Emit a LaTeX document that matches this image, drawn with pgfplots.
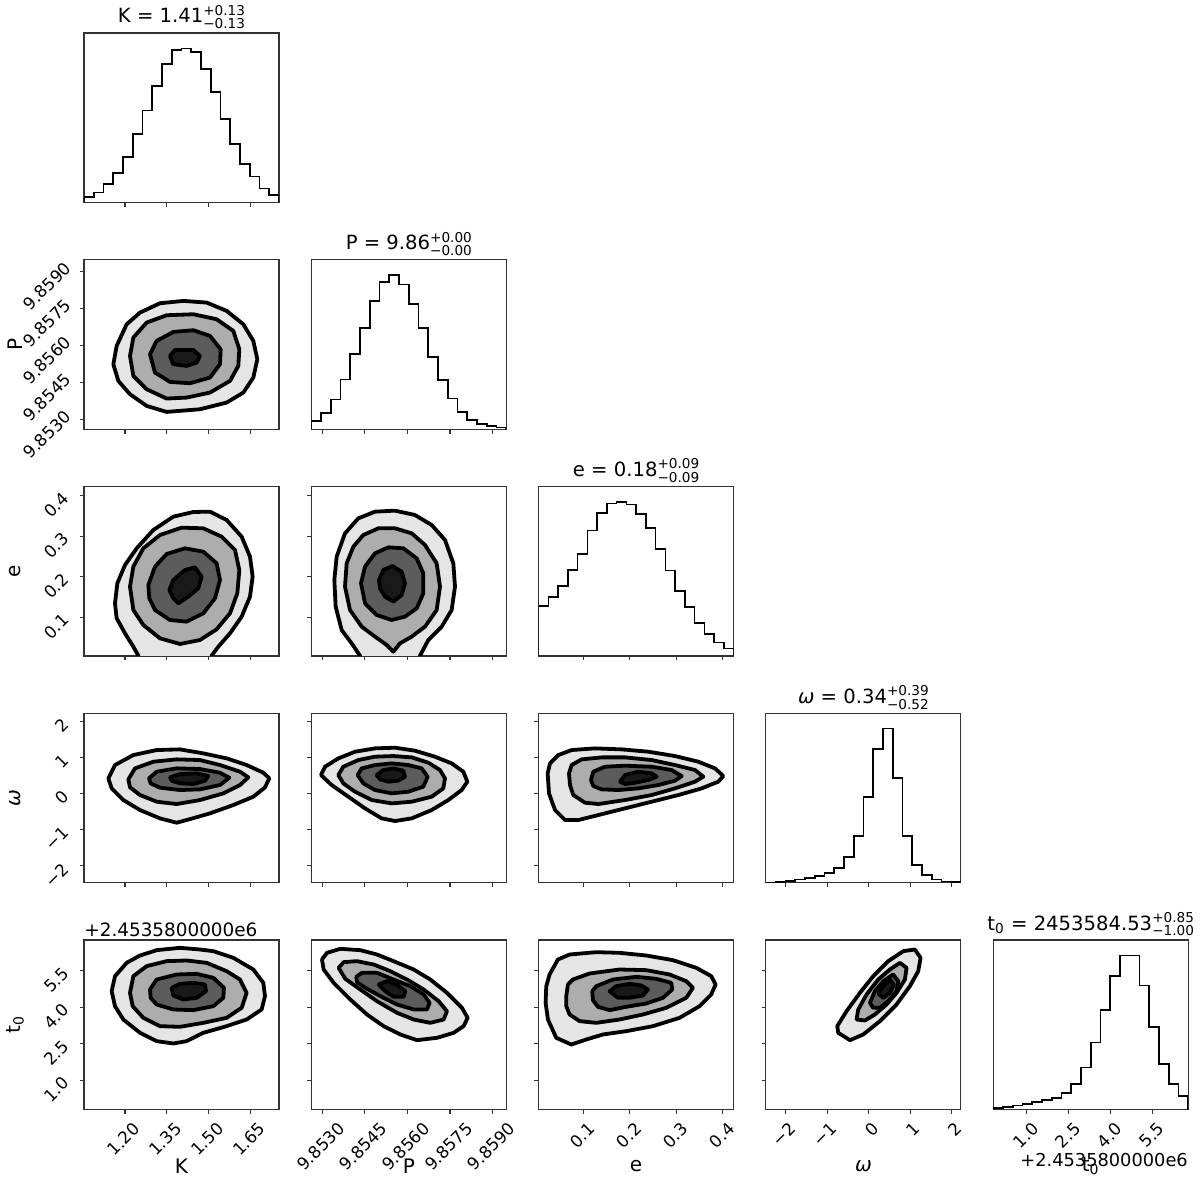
\documentclass[border=0pt]{standalone}
\usepackage{fontspec}
\setmainfont{DejaVu Sans}
\usepackage{pgfplots}
\pgfplotsset{compat=1.18}
\newcommand{\tl}{\fontsize{8.4}{9}\selectfont}
\newcommand{\lb}{\fontsize{10}{11}\selectfont}
\newcommand{\ttl}{\fontsize{9.8}{11}\selectfont}
\newcommand{\ud}[2]{{\fontsize{6.8}{7}\selectfont\rlap{\raisebox{3.8pt}{#1}}\raisebox{-2.9pt}{#2}}}
\def\Kmin{1.053}\def\Kmax{1.752}
\def\Pmin{26.2}\def\Pmax{94.8}
\def\emin{0.004}\def\emax{0.423}
\def\wmin{-2.48}\def\wmax{2.22}
\def\tmin{-0.2}\def\tmax{6.77}
\pgfplotsset{
 corner/.style={scale only axis, width=97.5pt, height=84.75pt, anchor=north west,
   axis line style={black!80, line width=0.55pt}, tick style={black!80, line width=0.55pt},
   tick align=outside, major tick length=2.2pt, xtick pos=bottom, ytick pos=left,
   xticklabels={}, yticklabels={}, clip mode=individual,
   xlabel style={font=\lb, at={(axis description cs:0.5,-0.335)}, anchor=center},
   ylabel style={font=\lb, at={(axis description cs:-0.354,0.5)}, anchor=center},
   title style={font=\ttl, at={(axis description cs:0.5,1)}, anchor=south, inner sep=0pt, yshift=-4.2pt}},
 xtl/.style={xticklabel style={font=\tl, xshift=#1, yshift=-2pt, rotate=45, anchor=north east, inner sep=1pt}},
 ytl/.style 2 args={yticklabel style={font=\tl, xshift=#1, yshift=#2, rotate=45, anchor=east, inner sep=1pt}},
 Kx/.style={xmin=\Kmin, xmax=\Kmax, xtick={1.2,1.35,1.5,1.65}},
 KxL/.style={xticklabels={1.20,1.35,1.50,1.65}, xlabel={K}, xtl=3.6pt},
 Px/.style={xmin=\Pmin, xmax=\Pmax, xtick={30,45,60,75,90}},
 PxL/.style={xticklabels={9.8530,9.8545,9.8560,9.8575,9.8590}, xlabel={P}, xtl=7.4pt},
 ex/.style={xmin=\emin, xmax=\emax, xtick={0.1,0.2,0.3,0.4}},
 exL/.style={xticklabels={0.1,0.2,0.3,0.4}, xlabel={e}, xtl=2pt},
 wx/.style={xmin=\wmin, xmax=\wmax, xtick={-2,-1,0,1,2}},
 wxL/.style={xticklabels={−2,−1,0,1,2}, xlabel={\textit{ω}}, xtl=1.2pt},
 tx/.style={xmin=\tmin, xmax=\tmax, xtick={1,2.5,4,5.5}},
 txL/.style={xticklabels={1.0,2.5,4.0,5.5}, xlabel={t\textsubscript{0}}, xtl=2pt},
 Py/.style={ymin=\Pmin, ymax=\Pmax, ytick={30,45,60,75,90}},
 PyL/.style={yticklabels={9.8530,9.8545,9.8560,9.8575,9.8590}, ylabel={P}, ytl={-5pt}{4pt}},
 ey/.style={ymin=\emin, ymax=\emax, ytick={0.1,0.2,0.3,0.4}},
 eyL/.style={yticklabels={0.1,0.2,0.3,0.4}, ylabel={e}, ytl={-6pt}{1pt}},
 wy/.style={ymin=\wmin, ymax=\wmax, ytick={-2,-1,0,1,2}},
 wyL/.style={yticklabels={−2,−1,0,1,2}, ylabel={\textit{ω}}, ytl={-6pt}{0.5pt}},
 ty/.style={ymin=\tmin, ymax=\tmax, ytick={1,2.5,4,5.5}},
 tyL/.style={yticklabels={1.0,2.5,4.0,5.5}, ylabel={t\textsubscript{0}}, ytl={-6pt}{1pt}},
 hist/.style={const plot, draw=black, line width=0.85pt, mark=none},
 table/hx/.style 2 args={x expr={#1+\thisrow{i}*((#2)-(#1))/20}, y=h, row sep=\\},
 table/pix/.style n args={9}{x expr={#6+(\thisrow{a}/#1+#2-#3)/195*((#7)-(#6))},
   y expr={#8+(#5-\thisrow{b}/#1-#4)/169.5*((#9)-(#8))}, row sep=\\},
 cbase/.style={draw=black, line width=1.9pt, line join=round, line cap=round, mark=none},
 c4/.style={cbase, fill=black!10},
 c3/.style={cbase, fill=black!32},
 c2/.style={cbase, fill=black!64},
 c1/.style={cbase, fill=black!90},
}
\begin{document}
\begin{tikzpicture}
\useasboundingbox (0pt,0pt) rectangle (600pt,591.5pt);
% ---------- Row 1 ----------
\begin{axis}[corner, at={(42pt,575pt)}, Kx, ymin=0, ymax=505, ytick=\empty, title={K = 1.41\ud{+0.13}{−0.13}}]
\addplot[hist] table[hx={\Kmin}{\Kmax}]{i h\\ 0 0\\ 0 17\\ 1 30\\ 2 55\\ 3 87\\ 4 135\\ 5 205\\ 6 274\\ 7 347\\ 8 412\\ 9 455\\ 10 459\\ 11 449\\ 12 397\\ 13 329\\ 14 249\\ 15 175\\ 16 115\\ 17 77\\ 18 42\\ 19 22\\ 20 22\\ 20 0\\};
\end{axis}
% ---------- Row 2 ----------
\begin{axis}[corner, at={(42pt,461.625pt)}, Kx, Py, PyL]
\addplot[c4] table[pix={3}{0}{84}{250}{430}{\Kmin}{\Kmax}{\Pmin}{\Pmax}]{a b\\ 340 345\\ 350 290\\ 380 225\\ 420 190\\ 480 162\\ 550 155\\ 620 160\\ 680 185\\ 730 225\\ 760 275\\ 772 330\\ 760 385\\ 730 430\\ 680 460\\ 600 480\\ 500 488\\ 440 470\\ 390 435\\ 355 395\\ 340 345\\};
\addplot[c3] table[pix={3}{0}{84}{250}{430}{\Kmin}{\Kmax}{\Pmin}{\Pmax}]{a b\\ 390 320\\ 400 265\\ 440 220\\ 500 198\\ 580 195\\ 650 210\\ 700 245\\ 718 300\\ 715 350\\ 690 395\\ 630 430\\ 560 445\\ 500 448\\ 440 420\\ 400 380\\ 390 320\\};
\addplot[c2] table[pix={3}{0}{84}{250}{430}{\Kmin}{\Kmax}{\Pmin}{\Pmax}]{a b\\ 450 315\\ 470 275\\ 520 248\\ 580 243\\ 630 260\\ 662 300\\ 660 345\\ 630 385\\ 570 402\\ 510 398\\ 465 370\\ 450 315\\};
\addplot[c1] table[pix={3}{0}{84}{250}{430}{\Kmin}{\Kmax}{\Pmin}{\Pmax}]{a b\\ 510 320\\ 525 302\\ 580 302\\ 600 320\\ 590 340\\ 560 350\\ 520 345\\ 510 320\\};
\end{axis}
\begin{axis}[corner, at={(155.65pt,461.625pt)}, Px, ymin=0, ymax=511.5, ytick=\empty, title={P = 9.86\ud{+0.00}{−0.00}}]
\addplot[hist] table[hx={\Pmin}{\Pmax}]{i h\\ 0 0\\ 0 25\\ 1 50\\ 2 90\\ 3 150\\ 4 227\\ 5 305\\ 6 387\\ 7 445\\ 8 465\\ 9 437\\ 10 377\\ 11 305\\ 12 217\\ 13 148\\ 14 93\\ 15 53\\ 16 28\\ 17 15\\ 18 10\\ 19 5\\ 20 5\\ 20 0\\};
\end{axis}
% ---------- Row 3 ----------
\begin{axis}[corner, at={(42pt,348.25pt)}, Kx, ey, eyL]
\addplot[c4] table[pix={3}{0}{84}{470}{656}{\Kmin}{\Kmax}{\emin}{\emax}]{a b\\ 418 575\\ 415 557\\ 400 530\\ 375 490\\ 350 445\\ 345 400\\ 352 340\\ 375 285\\ 410 235\\ 460 180\\ 520 140\\ 580 126\\ 630 125\\ 680 150\\ 725 200\\ 750 260\\ 758 320\\ 750 380\\ 725 440\\ 690 490\\ 655 530\\ 635 557\\ 632 575\\};
\addplot[c3] table[pix={3}{0}{84}{470}{656}{\Kmin}{\Kmax}{\emin}{\emax}]{a b\\ 390 350\\ 400 290\\ 430 235\\ 480 195\\ 545 173\\ 610 175\\ 665 200\\ 705 240\\ 718 300\\ 712 370\\ 690 430\\ 650 478\\ 600 510\\ 540 522\\ 480 505\\ 430 465\\ 400 420\\ 390 350\\};
\addplot[c2] table[pix={3}{0}{84}{470}{656}{\Kmin}{\Kmax}{\emin}{\emax}]{a b\\ 445 345\\ 465 290\\ 500 252\\ 555 235\\ 610 245\\ 650 280\\ 660 330\\ 645 385\\ 610 430\\ 560 455\\ 510 450\\ 465 420\\ 448 385\\ 445 345\\};
\addplot[c1] table[pix={3}{0}{84}{470}{656}{\Kmin}{\Kmax}{\emin}{\emax}]{a b\\ 508 360\\ 520 330\\ 555 300\\ 585 292\\ 605 320\\ 595 355\\ 565 380\\ 535 400\\ 520 385\\ 508 360\\};
\end{axis}
\begin{axis}[corner, at={(155.65pt,348.25pt)}, Px, ey]
\addplot[c4] table[pix={3}{305}{311.3}{480}{656}{\Pmin}{\Pmax}{\emin}{\emax}]{a b\\ 167 540\\ 165 527\\ 140 490\\ 110 450\\ 92 380\\ 88 300\\ 95 230\\ 120 160\\ 160 115\\ 210 95\\ 270 92\\ 330 105\\ 380 135\\ 420 180\\ 445 250\\ 450 320\\ 440 390\\ 410 440\\ 370 480\\ 345 527\\ 343 540\\};
\addplot[c3] table[pix={3}{305}{311.3}{480}{656}{\Pmin}{\Pmax}{\emin}{\emax}]{a b\\ 120 320\\ 125 250\\ 145 200\\ 175 165\\ 220 145\\ 270 145\\ 320 160\\ 360 195\\ 395 250\\ 405 320\\ 395 390\\ 360 440\\ 320 470\\ 285 490\\ 265 515\\ 245 495\\ 210 470\\ 170 440\\ 135 390\\ 120 320\\};
\addplot[c2] table[pix={3}{305}{311.3}{480}{656}{\Pmin}{\Pmax}{\emin}{\emax}]{a b\\ 168 310\\ 180 260\\ 210 220\\ 250 202\\ 295 205\\ 335 235\\ 355 280\\ 355 340\\ 335 385\\ 300 410\\ 260 420\\ 215 405\\ 180 370\\ 168 310\\};
\addplot[c1] table[pix={3}{305}{311.3}{480}{656}{\Pmin}{\Pmax}{\emin}{\emax}]{a b\\ 222 300\\ 235 270\\ 262 258\\ 290 275\\ 300 310\\ 290 345\\ 265 365\\ 240 350\\ 225 325\\ 222 300\\};
\end{axis}
\begin{axis}[corner, at={(269.3pt,348.25pt)}, ex, ymin=0, ymax=506, ytick=\empty, title={e = 0.18\ud{+0.09}{−0.09}}]
\addplot[hist] table[hx={\emin}{\emax}]{i h\\ 0 0\\ 0 150\\ 1 177\\ 2 209\\ 3 257\\ 4 305\\ 5 375\\ 6 427\\ 7 455\\ 8 460\\ 9 452\\ 10 424\\ 11 382\\ 12 319\\ 13 255\\ 14 195\\ 15 147\\ 16 99\\ 17 65\\ 18 40\\ 19 22\\ 20 22\\ 20 0\\};
\end{axis}
% ---------- Row 4 ----------
\begin{axis}[corner, at={(42pt,234.875pt)}, Kx, wy, wyL]
\addplot[c4] table[pix={3}{0}{84}{700}{882.7}{\Kmin}{\Kmax}{\wmin}{\wmax}]{a b\\ 325 235\\ 345 195\\ 400 165\\ 470 150\\ 540 148\\ 610 160\\ 680 175\\ 740 195\\ 790 218\\ 808 235\\ 795 262\\ 760 290\\ 700 315\\ 630 340\\ 560 360\\ 530 368\\ 480 355\\ 420 330\\ 370 300\\ 335 265\\ 325 235\\};
\addplot[c3] table[pix={3}{0}{84}{700}{882.7}{\Kmin}{\Kmax}{\wmin}{\wmax}]{a b\\ 385 238\\ 405 205\\ 460 185\\ 530 178\\ 600 180\\ 660 195\\ 720 215\\ 745 232\\ 720 255\\ 670 280\\ 600 300\\ 530 312\\ 470 305\\ 420 285\\ 390 262\\ 385 238\\};
\addplot[c2] table[pix={3}{0}{84}{700}{882.7}{\Kmin}{\Kmax}{\wmin}{\wmax}]{a b\\ 447 235\\ 470 215\\ 530 205\\ 600 207\\ 660 218\\ 688 233\\ 660 255\\ 600 268\\ 540 270\\ 480 263\\ 452 250\\ 447 235\\};
\addplot[c1] table[pix={3}{0}{84}{700}{882.7}{\Kmin}{\Kmax}{\wmin}{\wmax}]{a b\\ 510 232\\ 540 222\\ 590 220\\ 625 228\\ 615 242\\ 580 252\\ 540 250\\ 515 242\\ 510 232\\};
\end{axis}
\begin{axis}[corner, at={(155.65pt,234.875pt)}, Px, wy]
\addplot[c4] table[pix={3}{305}{311.3}{480}{882.7}{\Pmin}{\Pmax}{\wmin}{\wmax}]{a b\\ 48 885\\ 60 860\\ 100 835\\ 150 815\\ 210 805\\ 270 803\\ 330 812\\ 390 830\\ 440 850\\ 475 875\\ 487 905\\ 470 930\\ 430 960\\ 380 990\\ 320 1015\\ 270 1023\\ 230 1015\\ 180 985\\ 130 950\\ 80 915\\ 48 885\\};
\addplot[c3] table[pix={3}{305}{311.3}{480}{882.7}{\Pmin}{\Pmax}{\wmin}{\wmax}]{a b\\ 100 885\\ 115 860\\ 160 840\\ 210 830\\ 265 828\\ 320 832\\ 370 848\\ 405 870\\ 420 895\\ 415 925\\ 380 950\\ 320 965\\ 260 970\\ 200 960\\ 150 935\\ 115 910\\ 100 885\\};
\addplot[c2] table[pix={3}{305}{311.3}{480}{882.7}{\Pmin}{\Pmax}{\wmin}{\wmax}]{a b\\ 158 885\\ 170 865\\ 210 855\\ 260 850\\ 310 855\\ 350 865\\ 368 890\\ 355 920\\ 310 935\\ 260 940\\ 210 930\\ 175 910\\ 158 885\\};
\addplot[c1] table[pix={3}{305}{311.3}{480}{882.7}{\Pmin}{\Pmax}{\wmin}{\wmax}]{a b\\ 215 885\\ 235 870\\ 265 865\\ 295 872\\ 300 890\\ 280 902\\ 250 905\\ 225 898\\ 215 885\\};
\end{axis}
\begin{axis}[corner, at={(269.3pt,234.875pt)}, ex, wy]
\addplot[c4] table[pix={3}{305}{538.6}{480}{882.7}{\emin}{\emax}{\wmin}{\wmax}]{a b\\ 728 880\\ 735 850\\ 760 825\\ 800 810\\ 870 805\\ 950 808\\ 1030 815\\ 1110 828\\ 1180 845\\ 1230 865\\ 1255 888\\ 1240 905\\ 1190 925\\ 1120 945\\ 1040 965\\ 960 985\\ 880 1005\\ 820 1020\\ 780 1020\\ 750 990\\ 732 940\\ 728 880\\};
\addplot[c3] table[pix={3}{305}{538.6}{480}{882.7}{\emin}{\emax}{\wmin}{\wmax}]{a b\\ 792 880\\ 800 855\\ 830 838\\ 890 832\\ 960 832\\ 1040 840\\ 1110 855\\ 1170 870\\ 1195 890\\ 1170 905\\ 1110 925\\ 1040 945\\ 960 960\\ 880 972\\ 840 968\\ 805 945\\ 795 915\\ 792 880\\};
\addplot[c2] table[pix={3}{305}{538.6}{480}{882.7}{\emin}{\emax}{\wmin}{\wmax}]{a b\\ 858 900\\ 865 875\\ 900 860\\ 960 857\\ 1040 860\\ 1100 870\\ 1130 888\\ 1110 902\\ 1060 915\\ 1000 925\\ 940 930\\ 890 928\\ 865 918\\ 858 900\\};
\addplot[c1] table[pix={3}{305}{538.6}{480}{882.7}{\emin}{\emax}{\wmin}{\wmax}]{a b\\ 945 905\\ 960 885\\ 1000 875\\ 1040 880\\ 1055 890\\ 1030 900\\ 990 908\\ 960 912\\ 945 905\\};
\end{axis}
\begin{axis}[corner, at={(382.95pt,234.875pt)}, wx, ymin=0, ymax=509, ytick=\empty, title={\textit{ω} = 0.34\ud{+0.39}{−0.52}}]
\addplot[hist] table[hx={\wmin}{\wmax}]{i h\\ 0 0\\ 0 1\\ 1 3\\ 2 6\\ 3 10\\ 4 15\\ 5 21\\ 6 30\\ 7 45\\ 8 78\\ 9 141\\ 10 258\\ 11 401\\ 12 463\\ 13 315\\ 14 140\\ 15 53\\ 16 23\\ 17 10\\ 18 4\\ 19 2\\ 20 2\\ 20 0\\};
\end{axis}
% ---------- Row 5 ----------
\begin{axis}[corner, at={(42pt,121.5pt)}, Kx, KxL, ty, tyL]
\addplot[c4] table[pix={3}{0}{84}{920}{1110}{\Kmin}{\Kmax}{\tmin}{\tmax}]{a b\\ 335 215\\ 345 170\\ 380 130\\ 420 108\\ 470 92\\ 540 85\\ 600 90\\ 640 95\\ 700 115\\ 760 150\\ 790 190\\ 795 230\\ 785 270\\ 740 300\\ 680 320\\ 610 340\\ 560 365\\ 520 372\\ 470 365\\ 420 340\\ 370 300\\ 345 260\\ 335 215\\};
\addplot[c3] table[pix={3}{0}{84}{920}{1110}{\Kmin}{\Kmax}{\tmin}{\tmax}]{a b\\ 390 220\\ 400 170\\ 440 140\\ 500 125\\ 560 123\\ 620 130\\ 680 155\\ 720 180\\ 740 220\\ 725 265\\ 680 295\\ 610 310\\ 540 322\\ 480 320\\ 430 295\\ 398 260\\ 390 220\\};
\addplot[c2] table[pix={3}{0}{84}{920}{1110}{\Kmin}{\Kmax}{\tmin}{\tmax}]{a b\\ 450 210\\ 470 180\\ 530 165\\ 590 163\\ 640 175\\ 672 205\\ 670 235\\ 640 260\\ 580 272\\ 520 270\\ 470 255\\ 452 235\\ 450 210\\};
\addplot[c1] table[pix={3}{0}{84}{920}{1110}{\Kmin}{\Kmax}{\tmin}{\tmax}]{a b\\ 515 205\\ 540 193\\ 580 190\\ 615 195\\ 618 215\\ 590 235\\ 550 240\\ 520 228\\ 515 205\\};
\node[font=\fontsize{9.2}{10}\selectfont, anchor=south west, inner sep=0pt, yshift=1.5pt] at (rel axis cs:0,1) {+2.4535800000e6};
\end{axis}
\begin{axis}[corner, at={(155.65pt,121.5pt)}, Px, PxL, ty]
\addplot[c4] table[pix={3}{290}{311}{920}{1110}{\Pmin}{\Pmax}{\tmin}{\tmax}]{a b\\ 95 120\\ 110 100\\ 150 88\\ 210 92\\ 260 105\\ 310 125\\ 370 150\\ 420 180\\ 470 220\\ 515 265\\ 532 295\\ 520 320\\ 490 340\\ 440 355\\ 380 362\\ 330 345\\ 280 320\\ 230 285\\ 180 240\\ 130 190\\ 100 150\\ 95 120\\};
\addplot[c3] table[pix={3}{290}{311}{920}{1110}{\Pmin}{\Pmax}{\tmin}{\tmax}]{a b\\ 145 145\\ 160 128\\ 200 125\\ 250 135\\ 300 155\\ 350 180\\ 400 210\\ 445 245\\ 470 275\\ 460 300\\ 420 310\\ 370 300\\ 320 280\\ 260 245\\ 210 210\\ 165 178\\ 145 145\\};
\addplot[c2] table[pix={3}{290}{311}{920}{1110}{\Pmin}{\Pmax}{\tmin}{\tmax}]{a b\\ 198 172\\ 215 160\\ 260 160\\ 310 180\\ 360 200\\ 400 225\\ 418 250\\ 410 270\\ 370 270\\ 320 255\\ 270 230\\ 225 205\\ 200 188\\ 198 172\\};
\addplot[c1] table[pix={3}{290}{311}{920}{1110}{\Pmin}{\Pmax}{\tmin}{\tmax}]{a b\\ 265 195\\ 290 185\\ 320 195\\ 345 215\\ 340 232\\ 310 232\\ 285 215\\ 265 195\\};
\end{axis}
\begin{axis}[corner, at={(269.3pt,121.5pt)}, ex, exL, ty]
\addplot[c4] table[pix={3}{520}{539}{920}{1110}{\emin}{\emax}{\tmin}{\tmax}]{a b\\ 80 200\\ 90 165\\ 115 120\\ 150 105\\ 230 98\\ 300 100\\ 380 108\\ 460 122\\ 530 145\\ 575 170\\ 588 195\\ 575 225\\ 540 260\\ 480 295\\ 400 320\\ 320 335\\ 250 345\\ 200 360\\ 155 375\\ 110 355\\ 85 300\\ 78 250\\ 80 200\\};
\addplot[c3] table[pix={3}{520}{539}{920}{1110}{\emin}{\emax}{\tmin}{\tmax}]{a b\\ 140 230\\ 145 195\\ 160 180\\ 210 162\\ 300 150\\ 380 152\\ 450 165\\ 500 185\\ 520 205\\ 500 235\\ 440 265\\ 370 285\\ 300 300\\ 230 310\\ 180 305\\ 150 285\\ 140 260\\ 140 230\\};
\addplot[c2] table[pix={3}{520}{539}{920}{1110}{\emin}{\emax}{\tmin}{\tmax}]{a b\\ 218 215\\ 230 200\\ 280 180\\ 350 172\\ 410 178\\ 455 190\\ 458 210\\ 430 235\\ 380 252\\ 320 262\\ 270 272\\ 235 262\\ 220 242\\ 218 215\\};
\addplot[c1] table[pix={3}{520}{539}{920}{1110}{\emin}{\emax}{\tmin}{\tmax}]{a b\\ 270 215\\ 290 200\\ 330 193\\ 365 198\\ 385 210\\ 370 228\\ 330 235\\ 295 235\\ 270 215\\};
\end{axis}
\begin{axis}[corner, at={(382.95pt,121.5pt)}, wx, wxL, ty]
\addplot[c4] table[pix={3}{750}{766}{920}{1110}{\wmin}{\wmax}{\tmin}{\tmax}]{a b\\ 265 340\\ 262 320\\ 290 275\\ 330 220\\ 370 170\\ 415 125\\ 460 95\\ 495 90\\ 512 115\\ 505 155\\ 480 200\\ 440 255\\ 390 305\\ 340 345\\ 300 362\\ 265 340\\};
\addplot[c3] table[pix={3}{750}{766}{920}{1110}{\wmin}{\wmax}{\tmin}{\tmax}]{a b\\ 320 300\\ 325 270\\ 350 225\\ 385 180\\ 420 150\\ 450 130\\ 470 145\\ 465 180\\ 440 220\\ 410 255\\ 375 285\\ 345 303\\ 320 300\\};
\addplot[c2] table[pix={3}{750}{766}{920}{1110}{\wmin}{\wmax}{\tmin}{\tmax}]{a b\\ 360 250\\ 375 215\\ 400 185\\ 430 165\\ 445 185\\ 440 215\\ 415 245\\ 390 265\\ 370 265\\ 360 250\\};
\addplot[c1] table[pix={3}{750}{766}{920}{1110}{\wmin}{\wmax}{\tmin}{\tmax}]{a b\\ 385 222\\ 400 200\\ 420 180\\ 432 195\\ 420 220\\ 400 235\\ 385 222\\};
\end{axis}
\begin{axis}[corner, at={(496.6pt,121.5pt)}, tx, txL, ymin=0, ymax=511.5, ytick=\empty, title={t\textsubscript{0} = 2453584.53\ud{+0.85}{−1.00}}]
\addplot[hist] table[hx={\tmin}{\tmax}]{i h\\ 0 0\\ 0 5\\ 1 7\\ 2 12\\ 3 17\\ 4 22\\ 5 28\\ 6 35\\ 7 50\\ 8 77\\ 9 127\\ 10 202\\ 11 300\\ 12 402\\ 13 465\\ 14 465\\ 15 374\\ 16 250\\ 17 138\\ 18 76\\ 19 40\\ 20 40\\ 20 0\\};
\node[font=\fontsize{8.9}{10}\selectfont, anchor=north east, inner sep=0pt, yshift=-21.5pt] at (rel axis cs:1,0) {+2.4535800000e6};
\end{axis}
\end{tikzpicture}
\end{document}
